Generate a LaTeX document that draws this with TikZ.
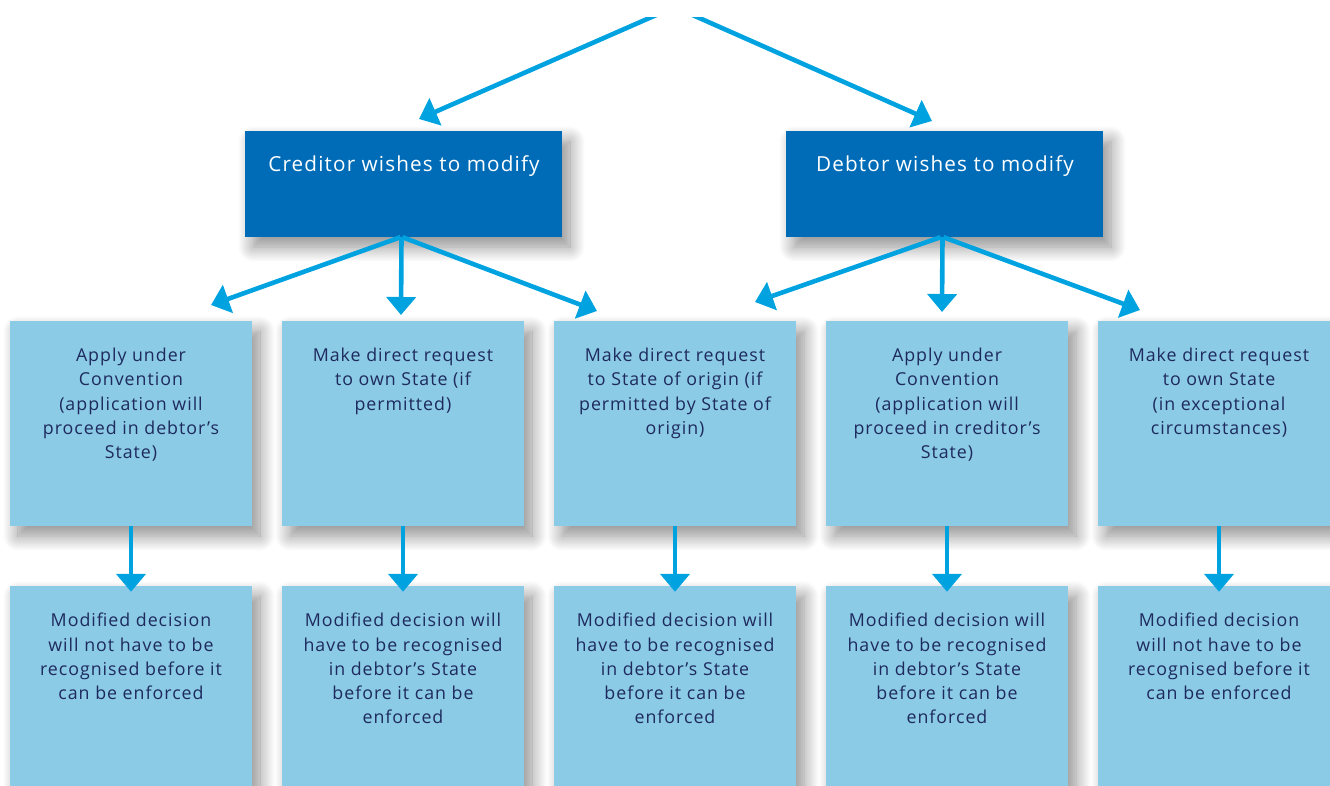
\documentclass[tikz,border=0pt]{standalone}
\usepackage{fontspec}
\setmainfont{Open Sans}[LetterSpace=5.5]
\usetikzlibrary{arrows.meta,shadows.blur}
\definecolor{darkbox}{HTML}{006CB7}
\definecolor{lightbox}{HTML}{8BCBE5}
\definecolor{arrowc}{HTML}{00A3E0}
\definecolor{navytext}{HTML}{1E2A5E}
\tikzset{
  shade/.style={blur shadow={shadow xshift=8pt,shadow yshift=-10pt,shadow blur radius=15pt,shadow blur steps=16,shadow opacity=45}},
  darknode/.style={draw=none,fill=darkbox,minimum width=317pt,minimum height=106pt,inner sep=0pt,shade},
  lightnode/.style={draw=none,fill=lightbox,minimum width=242pt,minimum height=205pt,inner sep=0pt,shade},
  darktext/.style={text=white,font=\fontsize{20.7}{28}\selectfont,inner sep=0pt,anchor=center},
  lighttext/.style={text=navytext,font=\fontsize{17.8}{24.2}\selectfont,align=center,inner sep=0pt,anchor=north},
  conn/.style={draw=arrowc,line width=4.6pt,-{Triangle[width=29pt,length=18pt]}},
}
\begin{document}
\begin{tikzpicture}[x=1pt,y=-1pt]
\useasboundingbox (0,0) rectangle (1330,785);
% top boxes
\node[darknode] (cred) at (403.5,184) {};
\node[darknode] (debt) at (944.5,184) {};
\node[darktext] (credt) at (404,166) {Creditor wishes to modify};
\node[darktext] (debtt) at (945,166) {Debtor wishes to modify};
% middle row
\foreach \i/\x in {1/131,2/403,3/675,4/947,5/1219}{
  \node[lightnode] (m\i) at (\x,423.5) {};
  \node[lightnode] (b\i) at (\x,688.5) {};
}
\node[lighttext] (mt1) at (131,348) {Apply under\\Convention\\(application will\\proceed in debtor’s\\State)};
\node[lighttext] (mt2) at (403,348) {Make direct request\\to own State (if\\permitted)};
\node[lighttext] (mt3) at (675,348) {Make direct request\\to State of origin (if\\permitted by State of\\origin)};
\node[lighttext] (mt4) at (947,348) {Apply under\\Convention\\(application will\\proceed in creditor’s\\State)};
\node[lighttext] (mt5) at (1219,348) {Make direct request\\to own State\\(in exceptional\\circumstances)};
\node[lighttext] (bt1) at (131,613) {Modified decision\\will not have to be\\recognised before it\\can be enforced};
\node[lighttext] (bt2) at (403,613) {Modified decision will\\have to be recognised\\in debtor’s State\\before it can be\\enforced};
\node[lighttext] (bt3) at (675,613) {Modified decision will\\have to be recognised\\in debtor’s State\\before it can be\\enforced};
\node[lighttext] (bt4) at (947,613) {Modified decision will\\have to be recognised\\in debtor’s State\\before it can be\\enforced};
\node[lighttext] (bt5) at (1219,613) {Modified decision\\will not have to be\\recognised before it\\can be enforced};
% top connectors
\coordinate (src) at (674.5,7);
\coordinate (tipc) at (419,119);
\coordinate (tipd) at (932,121);
\begin{scope}
\clip (0,17) rectangle (1330,785);
\draw[conn] (src) -- (tipc);
\draw[conn] (src) -- (tipd);
\end{scope}
% creditor connectors
\coordinate (c1) at (211,305);
\coordinate (c2) at (401,315);
\coordinate (c3) at (597,311);
\coordinate (d1) at (755,302);
\coordinate (d2) at (942,312);
\coordinate (d3) at (1140,310);
\draw[conn] ([xshift=-3pt]cred.south) -- (c1);
\draw[conn] ([xshift=-2pt]cred.south) -- (c2);
\draw[conn] ([xshift=-1pt]cred.south) -- (c3);
\draw[conn] ([xshift=-4pt]debt.south) -- (d1);
\draw[conn] ([xshift=-2pt]debt.south) -- (d2);
\draw[conn] ([xshift=-1pt]debt.south) -- (d3);
% bottom connectors
\foreach \i in {1,...,5}{
  \draw[conn] (m\i.south) -- ([yshift=-6pt]b\i.north);
}
\end{tikzpicture}
\end{document}
